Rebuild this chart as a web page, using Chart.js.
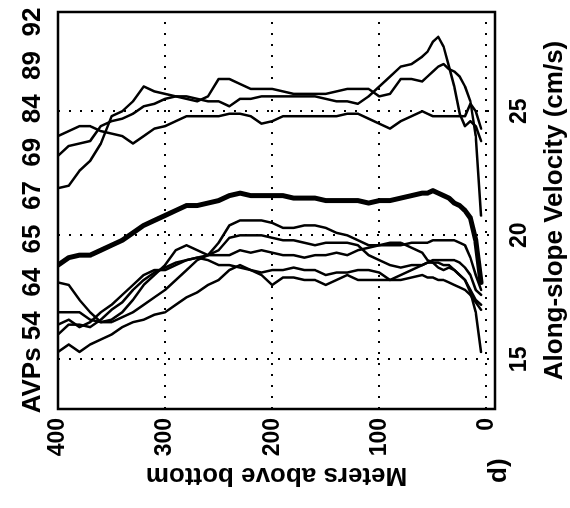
<!DOCTYPE html>
<html>
<head>
<meta charset="utf-8">
<title>Along-slope velocity profiles</title>
<script src="https://cdn.jsdelivr.net/npm/chart.js@4.4.1/dist/chart.umd.min.js"></script>
<style>
	html, body {
		margin: 0;
		padding: 0;
		background: #fff;
	}
	body {
		width: 570px;
		height: 508px;
		overflow: hidden;
		position: relative;
	}
	/* the figure is laid out upright and then turned a quarter turn */
	#profile-chart {
		position: absolute;
		left: 0;
		top: 0;
		transform-origin: 0 0;
		transform: translate(0px, 508px) rotate(-90deg);
	}
</style>
</head>
<body>
<canvas id="profile-chart" width="508" height="570"></canvas>
<script>
// profile numbers shown in the title
var avpIds = ["54", "64", "65", "67", "69", "84", "89", "92"];

// meters above bottom, shared by every profile
var heights = [400, 390, 380, 370, 360, 350, 340, 330, 320, 310,
	300, 290, 280, 270, 260, 250, 240, 230, 220, 210,
	200, 190, 180, 170, 160, 150, 140, 130, 120, 110,
	100, 90, 80, 70,
	60, 55, 50, 45, 40, 35, 30, 25, 20, 15, 10, 5];

// along-slope velocity (cm/s) at each height
var avp54 = [24.0, 24.2, 24.4, 24.4, 24.2, 24.1, 24.0, 23.7, 24.0, 24.3,
	24.4, 24.6, 24.8, 24.8, 24.8, 24.8, 24.9, 24.9, 24.8, 24.5,
	24.6, 24.8, 24.8, 24.8, 24.8, 24.8, 24.8, 24.9, 24.9, 24.7,
	24.5, 24.3, 24.6, 24.8,
	25.0, 24.9, 24.8, 24.8, 24.8, 24.8, 24.8, 24.8, 24.8, 25.3, 25.0, 24.3];
var avp64 = [23.2, 23.6, 23.7, 23.8, 24.4, 24.6, 24.7, 24.9, 25.2, 25.3,
	25.5, 25.6, 25.6, 25.5, 25.4, 25.4, 25.2, 25.5, 25.5, 25.6,
	25.6, 25.6, 25.6, 25.6, 25.6, 25.5, 25.4, 25.4, 25.3, 25.6,
	26.0, 26.4, 26.8, 26.9,
	27.2, 27.4, 27.8, 28.0, 27.6, 26.8, 26.0, 24.9, 24.4, 24.6, 24.4, 23.8];
var avp65 = [21.9, 22.0, 22.6, 23.0, 23.7, 24.8, 25.0, 25.4, 26.0, 25.8,
	25.7, 25.6, 25.5, 25.4, 25.6, 26.3, 26.3, 26.1, 25.9, 25.9,
	25.9, 25.8, 25.7, 25.7, 25.7, 25.7, 25.8, 25.9, 25.9, 25.9,
	25.6, 25.7, 26.3, 26.3,
	26.2, 26.4, 26.6, 26.8, 26.9, 26.7, 26.6, 26.4, 26.0, 25.4, 24.0, 20.8];
var avp67 = [16.9, 16.9, 16.9, 16.6, 16.5, 16.5, 16.7, 16.9, 17.2, 17.5,
	17.8, 18.2, 18.6, 19.0, 19.2, 19.7, 20.4, 20.6, 20.6, 20.6,
	20.5, 20.3, 20.3, 20.4, 20.4, 20.3, 20.1, 20.0, 19.8, 19.6,
	19.6, 19.6, 19.6, 19.7,
	19.7, 19.7, 19.8, 19.8, 19.8, 19.8, 19.8, 19.7, 19.6, 19.1, 18.4, 17.8];
var avp69 = [16.0, 16.4, 16.4, 16.3, 16.6, 17.0, 17.3, 17.8, 18.2, 18.5,
	18.7, 18.9, 19.0, 19.1, 19.2, 19.4, 19.9, 20.0, 20.0, 20.0,
	19.9, 19.8, 19.8, 19.7, 19.6, 19.7, 19.7, 19.7, 19.6, 19.2,
	19.0, 18.8, 18.7, 18.8,
	18.8, 18.9, 19.0, 19.0, 19.0, 19.0, 19.0, 18.9, 18.7, 18.4, 17.8, 17.6];
var avp84 = [18.1, 18.0, 17.4, 16.9, 16.5, 16.6, 16.9, 17.4, 18.0, 18.4,
	18.8, 19.4, 19.6, 19.4, 19.2, 19.2, 19.2, 19.4, 19.3, 19.4,
	19.3, 19.2, 19.2, 19.1, 19.2, 19.2, 19.3, 19.2, 19.4, 19.5,
	19.6, 19.7, 19.7, 19.5,
	19.3, 19.0, 18.9, 18.9, 18.8, 18.8, 18.6, 18.4, 18.2, 17.7, 16.9, 15.3];
var avp89 = [16.4, 16.6, 16.3, 16.5, 16.9, 17.2, 17.6, 18.0, 18.4, 18.6,
	18.6, 18.8, 19.0, 19.1, 19.0, 18.8, 18.8, 18.7, 18.6, 18.5,
	18.6, 18.6, 18.7, 18.6, 18.6, 18.4, 18.5, 18.5, 18.6, 18.6,
	18.5, 18.2, 18.4, 18.6,
	18.8, 18.9, 18.9, 18.7, 18.6, 18.7, 18.6, 18.4, 18.2, 17.8, 17.4, 17.2];
var avp92 = [15.3, 15.6, 15.3, 15.6, 15.8, 16.0, 16.3, 16.5, 16.6, 16.8,
	16.9, 17.2, 17.5, 17.7, 18.0, 18.2, 18.6, 18.8, 18.6, 18.4,
	18.0, 18.3, 18.3, 18.2, 18.2, 18.0, 18.2, 18.4, 18.2, 18.2,
	18.2, 18.2, 18.2, 18.3,
	18.4, 18.3, 18.3, 18.2, 18.2, 18.1, 18.0, 17.9, 17.8, 17.6, 17.3, 17.0];
// mean of all profiles (heavy line)
var avpMean = [18.8, 19.1, 19.2, 19.2, 19.4, 19.6, 19.8, 20.1, 20.4, 20.6,
	20.8, 21.0, 21.2, 21.2, 21.3, 21.4, 21.6, 21.7, 21.6, 21.6,
	21.6, 21.6, 21.5, 21.5, 21.5, 21.4, 21.4, 21.4, 21.4, 21.3,
	21.4, 21.4, 21.5, 21.6,
	21.7, 21.7, 21.8, 21.7, 21.6, 21.5, 21.3, 21.2, 21.0, 20.7, 19.8, 18.1];

// axis ticks
var velocityTicks = [15, 20, 25];
var heightTicks = [0, 100, 200, 300, 400];

var FONT_FAMILY = "'Liberation Sans', Arial, Helvetica, sans-serif";

var toPoints = function (speeds) {
	return heights.map(function (h, i) {
		return { x: speeds[i], y: h };
	});
};

var profileLine = function (label, speeds, width) {
	return {
		label: label,
		data: toPoints(speeds),
		borderColor: "#000",
		borderWidth: width,
		pointRadius: 0,
		tension: 0,
		fill: false,
		borderJoinStyle: "round",
		borderCapStyle: "round",
	};
};

// box round the plot, title and panel letter
var figureFrame = {
	id: "figureFrame",
	afterDatasetsDraw: function (chart) {
		var ctx = chart.ctx;
		var a = chart.chartArea;
		ctx.save();
		ctx.strokeStyle = "#000";
		ctx.lineWidth = 2.5;
		ctx.strokeRect(a.left, a.top, a.right - a.left, a.bottom - a.top);
		ctx.restore();
	},
	afterDraw: function (chart) {
		var ctx = chart.ctx;
		var a = chart.chartArea;
		ctx.save();
		ctx.fillStyle = "#000";
		ctx.font = "bold 26px " + FONT_FAMILY;
		ctx.textAlign = "center";
		ctx.textBaseline = "alphabetic";
		ctx.fillText("AVPs " + avpIds.join("  "), (a.left + a.right) / 2, 40);
		ctx.textAlign = "left";
		ctx.fillText("d)", 25, 506);
		ctx.restore();
	},
};

// dotted grid; in v4 the dash pattern of grid lines lives under border
var gridStyle = {
	color: "#000",
	lineWidth: 2,
	drawTicks: false,
};
var dottedBorder = {
	display: false,
	dash: [2, 9],
};

var handleProfileChart = function () {
	var ctx = document.getElementById("profile-chart").getContext("2d");

	var datany = {
		datasets: [
			profileLine("AVP 54", avp54, 2.5),
			profileLine("AVP 64", avp64, 2.5),
			profileLine("AVP 65", avp65, 2.5),
			profileLine("AVP 67", avp67, 2.5),
			profileLine("AVP 69", avp69, 2.5),
			profileLine("AVP 84", avp84, 2.5),
			profileLine("AVP 89", avp89, 2.5),
			profileLine("AVP 92", avp92, 2.5),
			profileLine("Mean", avpMean, 5),
		],
	};

	return new Chart(ctx, {
		type: "line",
		data: datany,
		plugins: [figureFrame],
		options: {
			responsive: false,
			animation: false,
			events: [],
			layout: {
				padding: { top: 58, right: 12, bottom: 0, left: 0 },
			},
			plugins: {
				legend: { display: false },
				tooltip: { enabled: false },
				title: { display: false },
			},
			scales: {
				x: {
					type: "linear",
					position: "bottom",
					min: 13,
					max: 29,
					afterBuildTicks: function (scale) {
						scale.ticks = velocityTicks.map(function (v) {
							return { value: v };
						});
					},
					afterFit: function (scale) {
						scale.height = 75;
					},
					grid: gridStyle,
					border: dottedBorder,
					ticks: {
						color: "#000",
						padding: 11,
						maxRotation: 0,
						font: { family: FONT_FAMILY, size: 23, weight: "bold" },
					},
					title: {
						display: true,
						text: "Along-slope Velocity (cm/s)",
						color: "#000",
						padding: { top: 0, bottom: 2 },
						font: { family: FONT_FAMILY, size: 26, weight: "bold", lineHeight: 1 },
					},
				},
				y: {
					type: "linear",
					position: "left",
					min: -8,
					max: 400,
					afterBuildTicks: function (scale) {
						scale.ticks = heightTicks.map(function (v) {
							return { value: v };
						});
					},
					afterFit: function (scale) {
						scale.width = 99;
					},
					grid: gridStyle,
					border: dottedBorder,
					ticks: {
						color: "#000",
						padding: 9,
						font: { family: FONT_FAMILY, size: 23, weight: "bold" },
					},
					title: {
						display: true,
						text: "Meters above bottom",
						color: "#000",
						padding: { top: 20, bottom: 0 },
						font: { family: FONT_FAMILY, size: 26, weight: "bold", lineHeight: 1 },
					},
				},
			},
		},
	});
};

handleProfileChart();
</script>
</body>
</html>
